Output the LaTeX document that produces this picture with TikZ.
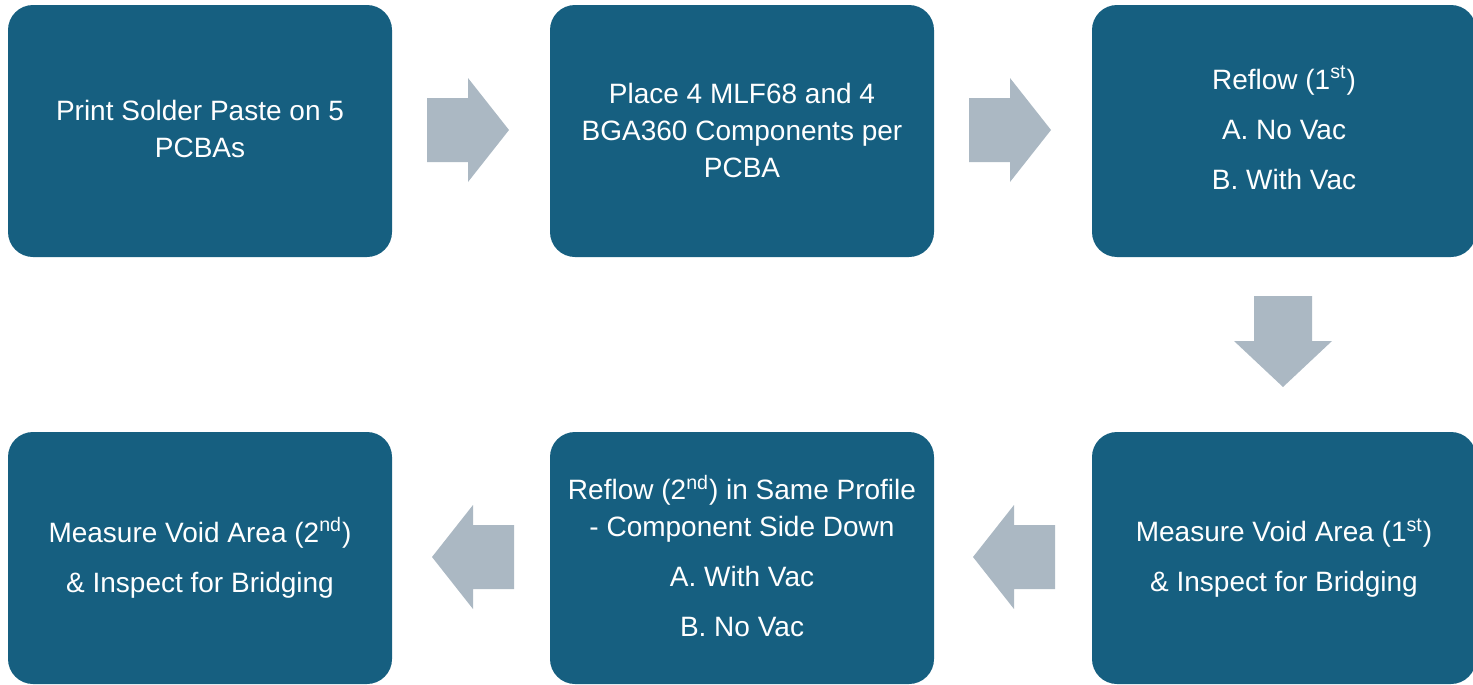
\documentclass[tikz,border=0pt]{standalone}
\usepackage{fontspec}
\setmainfont{Liberation Sans}
\usetikzlibrary{calc}
\definecolor{boxblue}{HTML}{165F80}
\definecolor{arrowgrey}{HTML}{ABB8C3}
\tikzset{
  stepbox/.style={fill=boxblue, draw=none, rounded corners=12.5pt,
    minimum width=192pt, minimum height=126pt, inner sep=0pt},
  steptext/.style={text=white, align=center, inner sep=0pt,
    font=\fontsize{14}{18.5}\selectfont},
  blockarrow/.style={fill=arrowgrey, draw=none}
}
\newcommand{\sep}{\\[6.5pt]}
\begin{document}
\begin{tikzpicture}[x=0.5pt, y=-0.5pt]
  \useasboundingbox (0,0) rectangle (1473,685);

  % process steps
  \node[stepbox] (b1) at (200,131) {};
  \node[stepbox] (b2) at (742,131) {};
  \node[stepbox] (b3) at (1284,131) {};
  \node[stepbox] (b4) at (1284,558) {};
  \node[stepbox] (b5) at (742,558) {};
  \node[stepbox] (b6) at (200,558) {};

  % step descriptions
  \node[steptext] (t1) at ($(b1)+(0,-2)$) {Print Solder Paste on 5\\PCBAs};
  \node[steptext] (t2) at ($(b2)+(0,-1)$) {Place 4 MLF68 and 4\\BGA360 Components per\\PCBA};
  \node[steptext] (t3) at ($(b3)+(0,-3)$) {Reflow (1\textsuperscript{st})\sep A. No Vac\sep B. With Vac};
  \node[steptext] (t4) at (b4) {Measure Void Area (1\textsuperscript{st})\sep \& Inspect for Bridging};
  \node[steptext] (t5) at ($(b5)+(0,-2)$) {Reflow (2\textsuperscript{nd}) in Same Profile\\- Component Side Down\sep A. With Vac\sep B. No Vac};
  \node[steptext] (t6) at (b6) {Measure Void Area (2\textsuperscript{nd})\sep \& Inspect for Bridging};

  % arrow anchors
  \coordinate (a12) at (468,130);
  \coordinate (a23) at (1010,130);
  \coordinate (a34) at (1283,341);
  \coordinate (a45) at (1014,557);
  \coordinate (a56) at (473,557);

  % right-pointing block arrows
  \foreach \c in {a12,a23}{
    \fill[blockarrow] ($(\c)+(-41,-32)$) -- ($(\c)+(0,-32)$) -- ($(\c)+(0,-52)$)
      -- ($(\c)+(41,0)$) -- ($(\c)+(0,52)$) -- ($(\c)+(0,32)$) -- ($(\c)+(-41,32)$) -- cycle;
  }
  % left-pointing block arrows
  \foreach \c in {a45,a56}{
    \fill[blockarrow] ($(\c)+(41,-32)$) -- ($(\c)+(0,-32)$) -- ($(\c)+(0,-52)$)
      -- ($(\c)+(-41,0)$) -- ($(\c)+(0,52)$) -- ($(\c)+(0,32)$) -- ($(\c)+(41,32)$) -- cycle;
  }
  % downward block arrow
  \fill[blockarrow] ($(a34)+(-29,-45)$) -- ($(a34)+(29,-45)$) -- ($(a34)+(29,0)$)
    -- ($(a34)+(49,0)$) -- ($(a34)+(0,46)$) -- ($(a34)+(-49,0)$) -- ($(a34)+(-29,0)$) -- cycle;
\end{tikzpicture}
\end{document}
